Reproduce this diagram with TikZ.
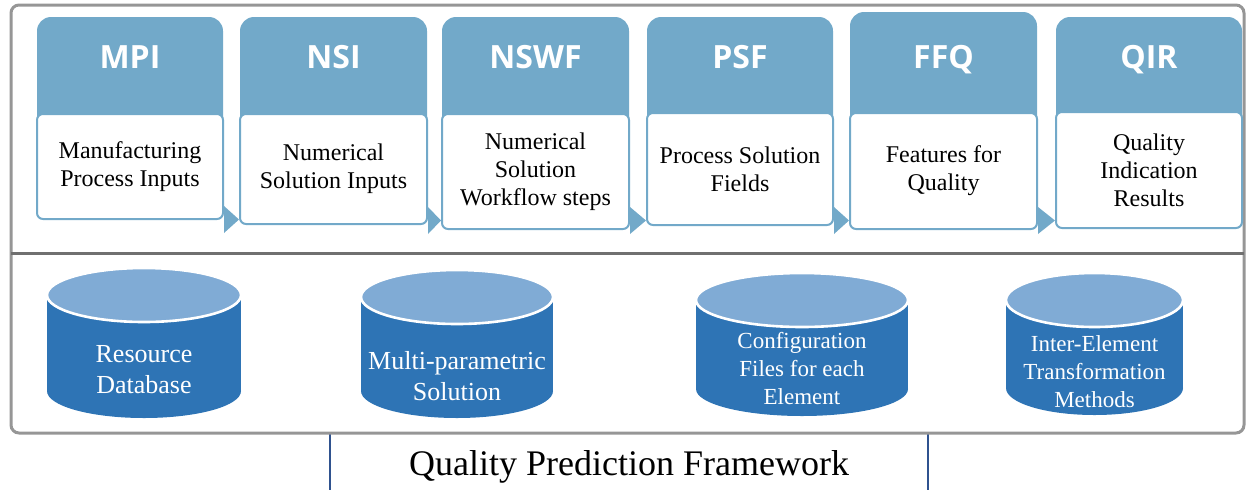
\documentclass[tikz,border=0pt]{standalone}
\usepackage{fontspec}
\setmainfont{Liberation Serif}
\newfontfamily\hdfont{Open Sans}

\definecolor{hdblue}{RGB}{114,169,201}
\definecolor{cylbodyblue}{RGB}{46,116,181}
\definecolor{cyltopblue}{RGB}{128,171,213}
\definecolor{framegray}{RGB}{150,150,150}
\definecolor{divgray}{RGB}{112,112,112}
\definecolor{titleblue}{RGB}{47,82,143}

% one stage of the workflow: name, x1, x2, header top, body top, body bottom, label, text
\newcommand\stagebox[8]{%
  \fill[stagehead] (#2,#5+30) rectangle (#3,#4);
  \node[stagelabel, anchor=base] (#1-lbl) at ({(#2+#3)/2},68) {#7};
  \node[stagebody, minimum width={(#3-#2)*0.5pt}, minimum height={(#6-#5)*0.5pt}]
    (#1) at ({(#2+#3)/2},{(#5+#6)/2}) {#8};
}

% a database cylinder: name, left, right, top, bottom, text centre y, font, text
\newcommand\dbcyl[8]{%
  \fill[cylbody] (#2,#4+27) rectangle (#3,#5-27);
  \fill[cylbody] ({(#2+#3)/2},#5-27) ellipse [x radius={(#3-#2)/2}, y radius=27];
  \filldraw[cyltop] ({(#2+#3)/2},#4+27) ellipse [x radius={(#3-#2)/2}, y radius=27];
  \node[cyltext, font=#7] (#1) at ({(#2+#3)/2},#6) {#8};
}

\begin{document}
\begin{tikzpicture}[x=0.5pt, y=-0.5pt,
  stagehead/.style={fill=hdblue, rounded corners=7pt},
  stagelabel/.style={text=white, inner sep=0pt, font=\hdfont\bfseries\fontsize{16}{19}\selectfont},
  stagebody/.style={fill=white, draw=hdblue, line width=1pt, rounded corners=3pt,
    inner sep=0pt, align=center, font=\rmfamily\mdseries\fontsize{12}{14}\selectfont},
  flowtip/.style={fill=hdblue},
  cylbody/.style={fill=cylbodyblue},
  cyltop/.style={fill=cyltopblue, draw=white, line width=1.3pt},
  cyltext/.style={text=white, align=center, inner sep=0pt},
  titlebox/.style={draw=titleblue, line width=0.6pt, inner sep=0pt,
    font=\rmfamily\fontsize{18}{21}\selectfont},
]
\useasboundingbox (0,0) rectangle (1248,489);
\clip (0,0) rectangle (1248,489);

% title box under the frame
\node[titlebox, minimum width=299pt, minimum height=34pt] (title) at (629,467) {Quality Prediction Framework};

% outer frame and divider
\draw[framegray, line width=1.5pt, rounded corners=4pt] (11,5) rectangle (1244,433);
\draw[divgray, line width=1.5pt] (11,253) -- (1244,253);

% workflow stages
\stagebox{mpi}{37}{223}{17}{114}{219}{MPI}{Manufacturing\\Process Inputs}
\stagebox{nsi}{240}{427}{17}{114}{224}{NSI}{Numerical\\Solution Inputs}
\stagebox{nswf}{442}{629}{17}{114}{229}{NSWF}{Numerical\\Solution\\Workflow steps}
\stagebox{psf}{647}{833}{17}{113}{225}{PSF}{Process Solution\\Fields}
\stagebox{ffq}{850}{1037}{12}{113}{229}{FFQ}{Features for\\Quality}
\stagebox{qir}{1056}{1242}{17}{112}{228}{QIR}{Quality\\Indication\\Results}

% flow markers between stages
\fill[flowtip] (mpi.east |- 0,206) -- (mpi.east |- 0,233) -- (nsi.west |- 0,219.5) -- cycle;
\fill[flowtip] (nsi.east |- 0,207) -- (nsi.east |- 0,234) -- (nswf.west |- 0,220.5) -- cycle;
\fill[flowtip] (nswf.east |- 0,207) -- (nswf.east |- 0,234) -- (psf.west |- 0,220.5) -- cycle;
\fill[flowtip] (psf.east |- 0,207) -- (psf.east |- 0,234) -- (ffq.west |- 0,220.5) -- cycle;
\fill[flowtip] (ffq.east |- 0,207) -- (ffq.east |- 0,234) -- (qir.west |- 0,220.5) -- cycle;

% resources
\dbcyl{resdb}{47}{241}{268}{418}{370}{\fontsize{13}{15.5}\selectfont}{Resource\\Database}
\dbcyl{multisol}{361}{553}{270}{418}{376}{\fontsize{13}{15.5}\selectfont}{Multi-parametric\\Solution}
\dbcyl{config}{696}{908}{273}{416}{369}{\fontsize{11.5}{14}\selectfont}{Configuration\\Files for each\\Element}
\dbcyl{transf}{1006}{1183}{273}{415}{372}{\fontsize{11.5}{14}\selectfont}{Inter-Element\\Transformation\\Methods}
\end{tikzpicture}
\end{document}
